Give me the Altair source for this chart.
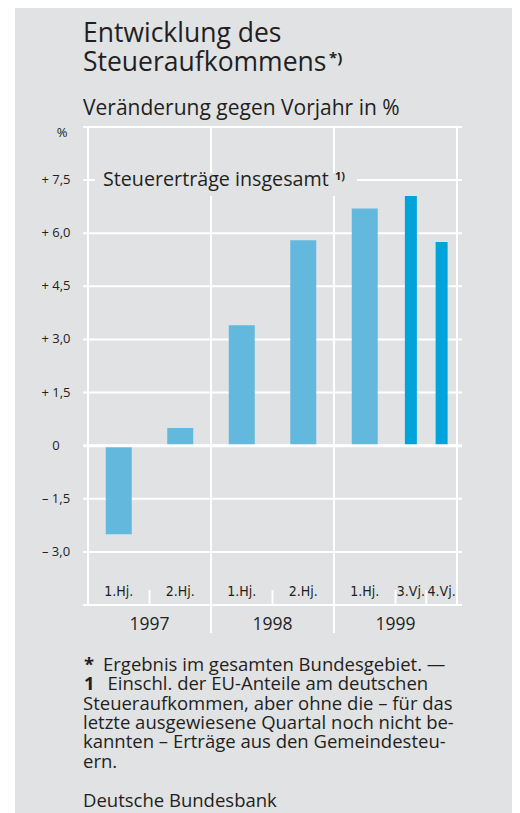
import altair as alt
import pandas as pd

# ---------------- data ----------------
years = [1997, 1997, 1998, 1998, 1999, 1999, 1999]
periods = ["1.Hj.", "2.Hj.", "1.Hj.", "2.Hj.", "1.Hj.", "3.Vj.", "4.Vj."]
values = [-2.5, 0.5, 3.4, 5.8, 6.7, 7.05, 5.75]
year_labels = ["1997", "1998", "1999"]
year_bounds = [1997, 1998, 1999, 2000]
y_grid = [-4.5, -3.0, -1.5, 0.0, 1.5, 3.0, 4.5, 6.0, 7.5, 9.0]
y_labelled = [-3.0, -1.5, 0.0, 1.5, 3.0, 4.5, 6.0, 7.5]
footnote_marks = ["*", "1"]
footnote_lines = [
    "Ergebnis im gesamten Bundesgebiet. —",
    "Einschl. der EU-Anteile am deutschen",
    "Steueraufkommen, aber ohne die – für das",
    "letzte ausgewiesene Quartal noch nicht be-",
    "kannten – Erträge aus den Gemeindesteu-",
    "ern.",
]
source_text = "Deutsche Bundesbank"

# position of each period inside its year (fraction of the year) and its length
period_pos = {"1.Hj.": 0.25, "2.Hj.": 0.75, "3.Vj.": 0.625, "4.Vj.": 0.875}
period_len = {"1.Hj.": 0.5, "2.Hj.": 0.5, "3.Vj.": 0.25, "4.Vj.": 0.25}

df = pd.DataFrame({"year": years, "period": periods, "value": values})
df["xpos"] = df["year"] + df["period"].map(period_pos)
df["kind"] = df["period"].map(lambda p: "Hj" if period_len[p] == 0.5 else "Vj")

yr = pd.DataFrame({"label": year_labels})
yr["xmid"] = yr["label"].astype(int) + 0.5
inner_years = pd.DataFrame({"x": year_bounds[1:-1]})
# boundaries between sub-periods inside a year (small ticks)
starts = (df["xpos"] - df["period"].map(period_len) / 2).tolist()
sub_df = pd.DataFrame({"x": sorted(set(starts) - set(year_bounds))})

hgrid = pd.DataFrame({"y": y_grid})
vgrid = pd.DataFrame({"x": year_bounds})


def fmt(v):
    if v == 0:
        return "0"
    s = f"{abs(v):.1f}".replace(".", ",")
    return ("+ " if v > 0 else "– ") + s


ylab = pd.DataFrame({"y": y_labelled, "t": [fmt(v) for v in y_labelled]})

# ---------------- style / layout ----------------
BG = "#e1e2e4"
INK = "#231f20"
LIGHT = "#63b8dd"
DARK = "#00a3da"
FONT = "Open Sans"
NARROW = "Liberation Sans Narrow, DejaVu Sans Condensed, Open Sans"
W, H = 379, 478
FOOT_Y = [544, 563.3, 582.7, 602, 621.3, 640.7]
FOOT_X = [20, 24.5, 0, 0, 0, 0]
SOURCE_Y = 679.7
FS = 18.5

xscale = alt.Scale(domain=[1997, 2000], nice=False, zero=False)
yscale = alt.Scale(domain=[-4.5, 9.0], nice=False, zero=False)

one = alt.InlineData(values=[{"a": 1}])


def X(field):
    return alt.X(field, type="quantitative", scale=xscale, axis=None)


def Y(field):
    return alt.Y(field, type="quantitative", scale=yscale, axis=None)


def txt(text, x, y, size, align="left", font=FONT, weight="normal", baseline="alphabetic"):
    return alt.Chart(one).mark_text(
        text=text, align=align, baseline=baseline, fontSize=size, font=font,
        fontWeight=weight, color=INK,
    ).encode(x=alt.value(x), y=alt.value(y))


hlines = alt.Chart(hgrid).mark_rule(color="white", strokeWidth=2).encode(
    y=Y("y"), x=alt.value(0), x2=alt.value(W)
)
vlines = alt.Chart(vgrid).mark_rule(color="white", strokeWidth=2).encode(
    x=X("x"), y=alt.value(0), y2=alt.value(H)
)
ylabels = alt.Chart(ylab).mark_text(
    font=FONT, fontSize=13, color=INK, align="center", baseline="middle"
).encode(y=Y("y"), x=alt.value(-27), text="t:N")

base = alt.Chart(df)
bars_h = base.transform_filter(alt.datum.kind == "Hj").mark_bar(size=26, color=LIGHT).encode(
    x=X("xpos"), y=Y("value"), y2=alt.datum(0)
)
bars_v = base.transform_filter(alt.datum.kind == "Vj").mark_bar(size=12, color=DARK).encode(
    x=X("xpos"), y=Y("value"), y2=alt.datum(0)
)

zero_rule = alt.Chart(one).mark_rule(color="white", strokeWidth=3).encode(
    y=alt.datum(0, scale=yscale, axis=None), x=alt.value(0), x2=alt.value(W)
)

sub_ticks = alt.Chart(sub_df).mark_rule(color="white", strokeWidth=2).encode(
    x=X("x"), y=alt.value(463), y2=alt.value(H)
)
year_ext = alt.Chart(inner_years).mark_rule(color="white", strokeWidth=2).encode(
    x=X("x"), y=alt.value(H), y2=alt.value(506)
)

sub_labels = base.mark_text(font=NARROW, fontSize=14, color=INK, baseline="alphabetic").encode(
    x=X("xpos"), y=alt.value(469), text="period:N"
)
year_text = alt.Chart(yr).mark_text(font=FONT, fontSize=17.5, color=INK, baseline="alphabetic").encode(
    x=X("xmid"), y=alt.value(503), text="label:N"
)

# box behind the series label, interrupting the gridlines
label_box = alt.Chart(one).mark_rect(color=BG).encode(
    x=alt.value(12), x2=alt.value(274), y=alt.value(46), y2=alt.value(69)
)
left_strip = alt.Chart(one).mark_rect(color="white").encode(
    x=alt.value(-76), x2=alt.value(-68), y=alt.value(-130), y2=alt.value(700)
)

texts = [
    txt("Entwicklung des", 0, -85, 26.5),
    txt("Steueraufkommens", 0, -56, 26.5),
    txt("*)", 246, -64, 15, weight="bold"),
    txt("Veränderung gegen Vorjahr in %", 0, -12, 21),
    txt("%", -21, 6, 13, align="center", baseline="middle"),
    txt("Steuererträge insgesamt", 20, 59, 19.7),
    txt("1)", 252, 53, 11, weight="bold"),
]
for mark, yy in zip(footnote_marks, FOOT_Y):
    texts.append(txt(mark, 1, yy, FS, weight="bold"))
for line, xx, yy in zip(footnote_lines, FOOT_X, FOOT_Y):
    texts.append(txt(line, xx, yy, FS))
texts.append(txt(source_text, 0, SOURCE_Y, FS))

chart = alt.layer(
    hlines, vlines, ylabels, bars_h, bars_v, zero_rule, sub_ticks, year_ext,
    sub_labels, year_text, label_box, left_strip, *texts
).properties(
    width=W, height=H, background=BG,
    padding={"left": 75, "top": 119, "right": 50, "bottom": 208},
    autosize=alt.AutoSizeParams(type="none"),
).configure_view(stroke=None)

chart.save("out.html", embed_options={"renderer": "svg", "actions": False})
